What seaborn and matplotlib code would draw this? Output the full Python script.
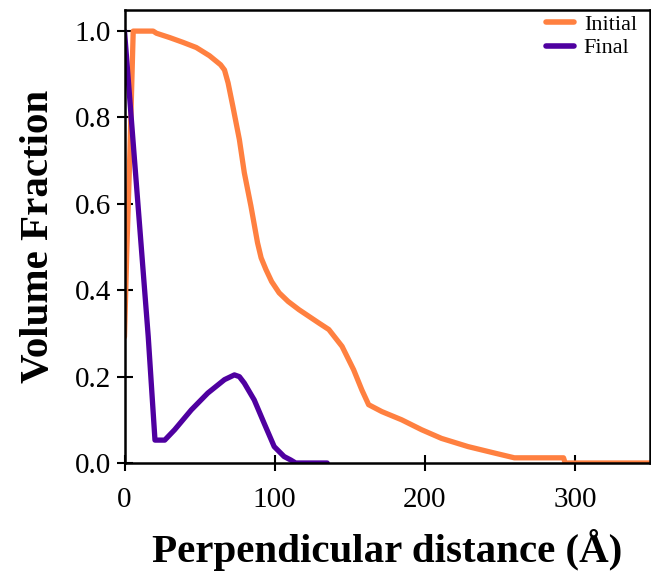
import numpy as np
import pandas as pd
import matplotlib
matplotlib.use("Agg")
import matplotlib.pyplot as plt
import seaborn as sns

# ---- data ----
initial_x = [0.0, 1.5, 3.6, 5.8, 19.1, 21.3, 30.1, 38.9, 47.8, 56.6, 64.0,
             66.6, 69.0, 72.1, 76.5, 79.8, 84.2, 88.6, 91.0, 94.2, 98.0,
             103.0, 109.0, 116.2, 129.5, 136.1, 144.9, 152.6, 158.1, 162.6,
             171.4, 184.6, 197.9, 211.1, 228.8, 246.5, 259.7, 292.4, 293.5,
             350.0]
initial_y = [0.292, 0.487, 0.719, 1.0, 1.0, 0.995, 0.985, 0.974, 0.962, 0.943,
             0.922, 0.910, 0.880, 0.827, 0.749, 0.672, 0.595, 0.510, 0.475,
             0.448, 0.420, 0.394, 0.374, 0.355, 0.324, 0.309, 0.270, 0.216,
             0.169, 0.135, 0.119, 0.100, 0.077, 0.057, 0.038, 0.023, 0.012,
             0.012, 0.0, 0.0]

final_x = [0.0, 15.8, 20.3, 26.8, 33.4, 44.5, 55.5, 66.6, 73.2, 76.5, 79.8,
           86.4, 93.0, 99.7, 106.3, 110.7, 114.0, 135.0]
final_y = [1.0, 0.293, 0.053, 0.053, 0.077, 0.123, 0.162, 0.193, 0.204, 0.200,
           0.185, 0.146, 0.092, 0.038, 0.015, 0.007, 0.0, 0.0]

series_names = ["Initial", "Final"]
series_colors = ["#ff8040", "#4f00a0"]

x_ticks = [0, 100, 200, 300]
y_ticks = [0.0, 0.2, 0.4, 0.6, 0.8, 1.0]

df = pd.concat([
    pd.DataFrame({"x": initial_x, "y": initial_y, "series": "Initial"}),
    pd.DataFrame({"x": final_x, "y": final_y, "series": "Final"}),
], ignore_index=True)

sns.set_theme(style="ticks")
plt.rcParams["font.family"] = ["Liberation Serif", "DejaVu Serif"]
plt.rcParams["text.color"] = "black"
plt.rcParams["axes.labelcolor"] = "black"

W, H = 651, 572
fig = plt.figure(figsize=(W / 100, H / 100), dpi=100)
ax = fig.add_axes([124.5 / W, (H - 463) / H, (650 - 124.5) / W, (463 - 9.5) / H])

sns.lineplot(data=df, x="x", y="y", hue="series", hue_order=series_names,
             palette=dict(zip(series_names, series_colors)), linewidth=3.8,
             estimator=None, sort=False, ax=ax)

ax.set_xlim(0, 350)
ax.set_ylim(0, 1.05)
ax.set_xticks(x_ticks)
ax.set_xticklabels([str(t) for t in x_ticks])
ax.set_yticks(y_ticks)
ax.set_yticklabels([f"{t:.1f}" for t in y_ticks])

for s in ax.spines.values():
    s.set_linewidth(1.8)
    s.set_color("black")
    s.set_visible(True)

ax.tick_params(axis="both", direction="inout", length=11, width=1.5,
               labelsize=21, colors="black")
ax.tick_params(axis="x", pad=12)
ax.tick_params(axis="y", pad=4)

ax.set_xlabel("Perpendicular distance (Å)", fontsize=29.5, fontweight="bold",
              labelpad=11, color="black")
ax.set_ylabel("Volume Fraction", fontsize=29.5, fontweight="bold", labelpad=13,
              color="black")

handles, labels = ax.get_legend_handles_labels()
leg = ax.legend(handles, labels, loc="upper right",
                bbox_to_anchor=(637 / W, (H - 14) / H),
                bbox_transform=fig.transFigure, frameon=False, fontsize=16,
                handlelength=1.25, handletextpad=0.45, labelspacing=0.15,
                borderpad=0, borderaxespad=0)
for line in leg.get_lines():
    line.set_linewidth(4)
for t in leg.get_texts():
    t.set_color("black")

fig.savefig("out.png", dpi=100)
